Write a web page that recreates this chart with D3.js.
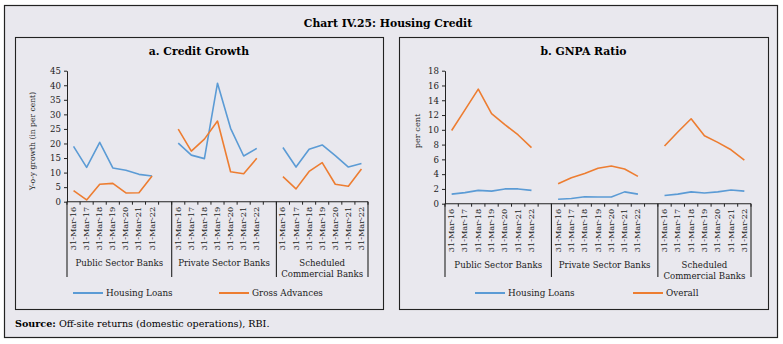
<!DOCTYPE html>
<html>
<head>
<meta charset="utf-8">
<script src="https://cdn.jsdelivr.net/npm/d3@7"></script>
<style>
  body { margin: 0; background: #fff; }
  svg { display: block; font-family: "DejaVu Serif", serif; }
</style>
</head>
<body>
<div id="grafico"></div>
<script>
const fechas = ["31-Mar-16", "31-Mar-17", "31-Mar-18", "31-Mar-19", "31-Mar-20", "31-Mar-21", "31-Mar-22"];
const grupos = ["Public Sector Banks", "Private Sector Banks", "Scheduled Commercial Banks"];

// a. Credit Growth (per group, 7 dates each)
const housingGrowth = [
  [19.0, 11.8, 20.4, 11.6, 10.8, 9.4, 8.8],
  [20.1, 16.0, 14.8, 40.7, 25.2, 15.7, 18.3],
  [18.6, 11.9, 18.0, 19.5, 15.8, 11.9, 13.1]
];
const grossGrowth = [
  [3.8, 0.6, 6.0, 6.3, 3.0, 3.1, 8.8],
  [24.9, 17.4, 21.5, 27.7, 10.3, 9.6, 14.9],
  [8.6, 4.4, 10.4, 13.4, 6.0, 5.3, 11.2]
];
const ticksA = [0, 5, 10, 15, 20, 25, 30, 35, 40, 45];

// b. GNPA Ratio
const housingGnpa = [
  [1.3, 1.5, 1.8, 1.7, 2.0, 2.0, 1.8],
  [0.6, 0.7, 0.95, 0.9, 0.9, 1.6, 1.3],
  [1.1, 1.3, 1.6, 1.45, 1.6, 1.85, 1.7]
];
const overallGnpa = [
  [9.9, 12.7, 15.5, 12.2, 10.7, 9.3, 7.6],
  [2.7, 3.5, 4.1, 4.8, 5.1, 4.7, 3.7],
  [7.8, 9.7, 11.5, 9.2, 8.3, 7.3, 5.9]
];
const ticksB = [0, 2, 4, 6, 8, 10, 12, 14, 16, 18];

const azul = "#5b9bd5";
const naranja = "#ed7d31";

const width = 783, height = 344;
const svg = d3.select("#grafico").append("svg")
  .attr("width", width).attr("height", height);

svg.append("rect").attr("x", 4.5).attr("y", 5.5).attr("width", 773).attr("height", 332)
  .attr("fill", "#e9e8ee").attr("stroke", "#222").attr("stroke-width", 1.2);

svg.append("text").attr("x", 388).attr("y", 27).attr("text-anchor", "middle")
  .style("font-size", "10.8px").style("font-weight", "bold").text("Chart IV.25: Housing Credit");

svg.append("text").attr("x", 15).attr("y", 327).style("font-size", "9.6px")
  .html('<tspan font-weight="bold">Source:</tspan> Off-site returns (domestic operations), RBI.');

// slots: 7 dates + blank, 7 dates + blank, 7 dates
const slots = [];
grupos.forEach((g, gi) => {
  fechas.forEach((f, fi) => slots.push(gi + "-" + fi));
  if (gi < grupos.length - 1) slots.push("blank-" + gi);
});

function panel(cfg) {
  const g = svg.append("g");
  g.append("rect").attr("x", cfg.box[0] + 0.5).attr("y", cfg.box[1] + 0.5)
    .attr("width", cfg.box[2] - cfg.box[0]).attr("height", cfg.box[3] - cfg.box[1])
    .attr("fill", "none").attr("stroke", "#222").attr("stroke-width", 1.1);

  g.append("text").attr("x", (cfg.box[0] + cfg.box[2]) / 2).attr("y", 55)
    .attr("text-anchor", "middle").style("font-size", "10.8px").style("font-weight", "bold")
    .text(cfg.titulo);

  const x = d3.scaleBand().domain(slots).range(cfg.xr);
  const y = d3.scaleLinear().domain([0, d3.max(cfg.ticks)]).range(cfg.yr);

  // Eje Y
  const ay = g.append("g").attr("transform", `translate(${cfg.xr[0]},0)`)
    .call(d3.axisLeft(y).tickValues(cfg.ticks).tickSize(3).tickSizeOuter(0));
  ay.selectAll("text").style("font-size", "8.6px").attr("fill", "#222").attr("font-family", "DejaVu Serif");
  ay.selectAll("line, path").attr("stroke", "#222");

  g.append("text").attr("transform", `translate(${cfg.ylabX},${cfg.ylabY}) rotate(-90)`)
    .attr("text-anchor", "middle").style("font-size", cfg.ylabSize).attr("fill", "#222").text(cfg.ylab);

  // Eje X
  const y0 = cfg.yr[0];
  g.append("line").attr("x1", cfg.xr[0]).attr("x2", cfg.xr[1]).attr("y1", y0).attr("y2", y0)
    .attr("stroke", "#222").attr("stroke-width", 1.1);
  slots.forEach((s) => {
    const xs = x(s);
    g.append("line").attr("x1", xs).attr("x2", xs).attr("y1", y0).attr("y2", y0 + 3)
      .attr("stroke", "#222");
  });
  g.append("line").attr("x1", cfg.xr[1]).attr("x2", cfg.xr[1]).attr("y1", y0).attr("y2", y0 + 3)
    .attr("stroke", "#222");

  const bottom = 277;
  const seps = [cfg.xr[0], x("1-0"), x("2-0"), cfg.xr[1]];
  seps.forEach((sx) => {
    g.append("line").attr("x1", sx).attr("x2", sx).attr("y1", y0).attr("y2", bottom)
      .attr("stroke", "#222").attr("stroke-width", 1.1);
  });

  grupos.forEach((gr, gi) => {
    fechas.forEach((f, fi) => {
      const cx = x(gi + "-" + fi) + x.bandwidth() / 2 + 2.5;
      g.append("text").attr("transform", `translate(${cx},${y0 + 5}) rotate(-90)`)
        .attr("text-anchor", "end").style("font-size", "8.2px").attr("fill", "#222").text(f);
    });
    const x1 = seps[gi], x2 = seps[gi + 1];
    const t = g.append("text").attr("x", (x1 + x2) / 2).attr("y", y0 + 64)
      .attr("text-anchor", "middle").style("font-size", "8.6px").attr("fill", "#222");
    if (gr === "Scheduled Commercial Banks") {
      t.append("tspan").attr("x", (x1 + x2) / 2).text("Scheduled");
      t.append("tspan").attr("x", (x1 + x2) / 2).attr("dy", 11).text("Commercial Banks");
    } else {
      t.text(gr);
    }
  });

  // Líneas
  const line = d3.line()
    .x((d) => x(d.slot) + x.bandwidth() / 2)
    .y((d) => y(d.v));
  cfg.series.forEach((se) => {
    se.values.forEach((vals, gi) => {
      const pts = vals.map((v, fi) => ({ slot: gi + "-" + fi, v }));
      g.append("path").datum(pts).attr("d", line).attr("fill", "none")
        .attr("stroke", se.color).attr("stroke-width", 1.6).attr("stroke-linejoin", "round");
    });
  });

  // Leyenda
  cfg.series.forEach((se, i) => {
    const lx = cfg.legX[i];
    g.append("line").attr("x1", lx).attr("x2", lx + 30).attr("y1", 293).attr("y2", 293)
      .attr("stroke", se.color).attr("stroke-width", 2);
    g.append("text").attr("x", lx + 33).attr("y", 296).style("font-size", "8.8px")
      .attr("fill", "#222").text(se.name);
  });
}

panel({
  box: [15, 37, 383, 309],
  titulo: "a. Credit Growth",
  xr: [67, 368],
  yr: [201.7, 70.7],
  ticks: ticksA,
  ylab: "Y-o-y growth (in per cent)",
  ylabX: 35,
  ylabY: 141,
  ylabSize: "7.6px",
  legX: [73, 219],
  series: [
    { name: "Housing Loans", color: azul, values: housingGrowth },
    { name: "Gross Advances", color: naranja, values: grossGrowth }
  ]
});

panel({
  box: [399, 37, 768, 309],
  titulo: "b. GNPA Ratio",
  xr: [445, 751],
  yr: [203.7, 70.7],
  ticks: ticksB,
  ylab: "per cent",
  ylabX: 420,
  ylabY: 131,
  ylabSize: "8.2px",
  legX: [475, 633],
  series: [
    { name: "Housing Loans", color: azul, values: housingGnpa },
    { name: "Overall", color: naranja, values: overallGnpa }
  ]
});
</script>
</body>
</html>
